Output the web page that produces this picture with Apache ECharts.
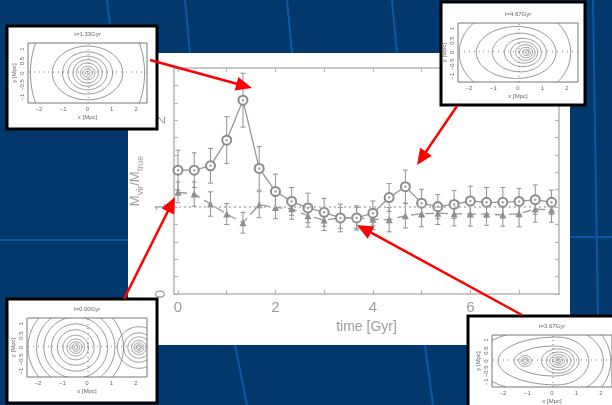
<!DOCTYPE html>
<html><head><meta charset="utf-8">
<script src="https://cdn.jsdelivr.net/npm/echarts@6/dist/echarts.min.js"></script>
<style>html,body{margin:0;padding:0;background:#03386d;}#c{width:612px;height:405px;}</style>
</head><body><div id="c"></div>
<script>
// ---- main chart data ----
const timeGyr = [0,0.333,0.667,1,1.333,1.667,2,2.333,2.667,3,3.333,3.667,4,4.333,4.667,5,5.333,5.667,6,6.333,6.667,7,7.333,7.667];
const ratioCircle = [1.425,1.425,1.475,1.77,2.23,1.445,1.18,1.065,0.99,0.94,0.875,0.875,0.93,1.11,1.235,1.045,1.005,1.03,1.07,1.055,1.055,1.065,1.085,1.055];
const errCircle = [0.23,0.2,0.2,0.27,0.31,0.25,0.2,0.16,0.17,0.16,0.16,0.14,0.14,0.16,0.19,0.16,0.14,0.16,0.17,0.17,0.17,0.15,0.17,0.14];
const ratioTriangle = [1.17,1.15,1.035,0.92,0.82,1.027,0.996,0.98,0.9,0.85,0.875,0.875,0.86,0.855,0.9,0.923,0.93,0.923,0.92,0.92,0.91,0.923,0.977,0.965];
const errTriangle = [0.12,0.14,0.14,0.12,0.12,0.15,0.13,0.12,0.13,0.12,0.12,0.12,0.12,0.14,0.14,0.15,0.13,0.14,0.14,0.13,0.13,0.15,0.15,0.14];
const referenceLevel = 1;
const xTickValues = [0,1,2,3,4,5,6,7];
const xLabelValues = [0,2,4,6];
const yTickValues = [0,0.2,0.4,0.6,0.8,1,1.2,1.4,1.6,1.8,2,2.2,2.4,2.6];
const yLabelValues = [0,1,2];

// ---- inset contour data: [cx, cy, rxLeft, rxRight, ry] in Mpc ----
const contours133 = [[0,0,2.35,2.35,3.0],[0,0,1.45,1.45,1.12],[0,0,1.03,1.03,0.88],[0,0,0.8,0.8,0.7],[0,0,0.6,0.6,0.55],[0,0,0.45,0.45,0.42],[0,0,0.3,0.3,0.28],[0,0,0.2,0.2,0.17],[0,0,0.1,0.1,0.08]];
const contours467 = [[0,0,2.4,2.15,1.9],[-0.05,0,1.65,1.6,1.1],[0.1,0,1.15,1.05,0.82],[0.2,0,0.75,0.75,0.6],[0.25,0,0.55,0.55,0.45],[0.3,0,0.4,0.4,0.33],[0.33,0,0.27,0.27,0.22],[0.35,0,0.17,0.17,0.13],[0.37,0,0.08,0.08,0.06]];
const contours000 = [[-0.46,0,0.08,0.08,0.08],[-0.46,0,0.16,0.16,0.16],[-0.46,0,0.25,0.25,0.25],[-0.46,0,0.36,0.36,0.36],[-0.46,0,0.52,0.52,0.52],[-0.46,0,0.75,0.75,0.75],[-0.46,0,1.0,1.0,1.0],[-0.46,0,1.3,1.3,1.3],[-0.46,0,1.6,1.6,1.6],[-0.46,0,1.95,1.95,1.95],
  [2.12,0,0.06,0.06,0.06],[2.12,0,0.12,0.12,0.12],[2.12,0,0.2,0.2,0.2],[2.12,0,0.3,0.3,0.3],[2.12,0,0.45,0.45,0.45],[2.12,0,0.62,0.62,0.62],[2.12,0,0.88,0.88,0.88]];
const contours367 = [[0.27,0,0.07,0.07,0.06],[0.27,0,0.14,0.14,0.12],[0.27,0,0.24,0.24,0.2],[0.27,0,0.36,0.36,0.31],[0.27,0,0.5,0.5,0.43],[0.25,0,0.68,0.66,0.58],
  [-1.1,0,0.08,0.08,0.08],[-1.1,0,0.16,0.16,0.16],[-1.1,0,0.26,0.26,0.26],
  [0.1,0,1.65,1.0,0.72],[0.2,0,2.4,1.3,1.15],[0.3,0,3.5,1.8,1.6],[0.3,0,4.0,2.1,2.2]];
const insetTitles = ['t=1.33Gyr','t=4.67Gyr','t=0.00Gyr','t=3.67Gyr'];
const insetXLabels = [-2,-1,0,1,2];
const insetYLabels = [-1,-0.5,0,0.5,1];

// ---- layout (pixels) ----
const insetLayout = [
  {box:[7,26,150,103], frame:[28,43,119,60]},
  {box:[441,2,144,103], frame:[458,23,120,59]},
  {box:[7,299,150,104], frame:[27,318,120,59]},
  {box:[468,316,150,104], frame:[492,335,120,59]}
];
const insetContours = [contours133, contours467, contours000, contours367];

const GRAY = '#969696', AX = '#b5b5b5', TXT = '#9c9c9c';
const FONT = 'Liberation Sans, Arial, sans-serif';

const chart = echarts.init(document.getElementById('c'), null, {renderer:'canvas'});

function errRender(params, api){
  const x = api.value(0);
  const lo = api.coord([x, api.value(1)]);
  const hi = api.coord([x, api.value(2)]);
  const w = 2.5;
  const st = {stroke: '#919191', lineWidth: 1};
  return {type:'group', children:[
    {type:'line', shape:{x1:lo[0],y1:lo[1],x2:hi[0],y2:hi[1]}, style:st},
    {type:'line', shape:{x1:lo[0]-w,y1:lo[1],x2:lo[0]+w,y2:lo[1]}, style:st},
    {type:'line', shape:{x1:hi[0]-w,y1:hi[1],x2:hi[0]+w,y2:hi[1]}, style:st}
  ]};
}
function ringRender(params, api){
  const cx=api.value(0), cy=api.value(1), rl=api.value(2), rr=api.value(3), ry=api.value(4);
  const pts=[];
  for(let k=0;k<=120;k++){
    const t=k/120*2*Math.PI, c=Math.cos(t), s=Math.sin(t);
    pts.push(api.coord([cx+(c<0?rl:rr)*c, cy+ry*s]));
  }
  return {type:'polyline', shape:{points:pts}, style:{stroke:'#7a7a7a', lineWidth:0.8, fill:null}};
}

const grids = [{left:174, top:68, width:385, height:226, show:false}];
const xAxes = [
  {gridIndex:0, type:'value', min:-0.082, max:7.82, position:'bottom',
   axisLine:{show:true, onZero:false, lineStyle:{color:AX, width:1.5}},
   axisTick:{show:true, inside:true, length:4, customValues:xTickValues, lineStyle:{color:AX, width:1.2}},
   axisLabel:{customValues:xLabelValues, margin:6, fontSize:15, color:TXT, fontFamily:FONT},
   splitLine:{show:false},
   name:'time [Gyr]', nameLocation:'middle', nameGap:26, nameTextStyle:{fontSize:14, color:TXT, fontFamily:FONT}},
  {gridIndex:0, type:'value', min:-0.082, max:7.82, position:'top',
   axisLine:{show:true, onZero:false, lineStyle:{color:AX, width:1.5}},
   axisTick:{show:true, inside:true, length:4, customValues:xTickValues, lineStyle:{color:AX, width:1.2}},
   axisLabel:{show:false}, splitLine:{show:false}}
];
const yAxes = [
  {gridIndex:0, type:'value', min:0, max:2.6, position:'left',
   axisLine:{show:true, onZero:false, lineStyle:{color:AX, width:1.5}},
   axisTick:{show:true, inside:true, length:4, customValues:yTickValues, lineStyle:{color:AX, width:1.2}},
   axisLabel:{customValues:yLabelValues, rotate:90, margin:6, fontSize:15, color:TXT, fontFamily:FONT},
   splitLine:{show:false},
   name:'M{s|vir}/M{s|true}', nameLocation:'middle', nameRotate:90, nameGap:19,
   nameTextStyle:{fontSize:13, color:TXT, fontFamily:FONT, lineHeight:20,
     rich:{s:{fontSize:9, color:TXT, fontFamily:FONT, verticalAlign:'bottom', lineHeight:20}}}},
  {gridIndex:0, type:'value', min:0, max:2.6, position:'right',
   axisLine:{show:true, onZero:false, lineStyle:{color:AX, width:1.5}},
   axisTick:{show:true, inside:true, length:4, customValues:yTickValues, lineStyle:{color:AX, width:1.2}},
   axisLabel:{show:false}, splitLine:{show:false}}
];

const series = [
  {type:'custom', xAxisIndex:0, yAxisIndex:0, renderItem:errRender, z:2,
   data: timeGyr.map((t,i)=>[t, ratioCircle[i]-errCircle[i], ratioCircle[i]+errCircle[i]])},
  {type:'custom', xAxisIndex:0, yAxisIndex:0, renderItem:errRender, z:2,
   data: timeGyr.map((t,i)=>[t, ratioTriangle[i]-errTriangle[i], ratioTriangle[i]+errTriangle[i]])},
  {type:'line', xAxisIndex:0, yAxisIndex:0, z:3, data: timeGyr.map((t,i)=>[t, ratioTriangle[i]]),
   symbol:'triangle', symbolSize:7, itemStyle:{color:'#8f8f8f'},
   lineStyle:{color:GRAY, width:1.3, type:[9,5]},
   markLine:{silent:true, symbol:['none','none'], label:{show:false},
     lineStyle:{color:'#b0b0b0', type:[2,3], width:1.5}, data:[{yAxis:referenceLevel}]}},
  {type:'line', xAxisIndex:0, yAxisIndex:0, z:4, data: timeGyr.map((t,i)=>[t, ratioCircle[i]]),
   symbol:'emptyCircle', symbolSize:9, itemStyle:{color:'#8c8c8c', borderWidth:1},
   lineStyle:{color:GRAY, width:1.3}},
  {type:'scatter', xAxisIndex:0, yAxisIndex:0, z:5, data: timeGyr.map((t,i)=>[t, ratioCircle[i]]),
   symbol:'circle', symbolSize:2.5, itemStyle:{color:'#8c8c8c'}}
];

const graphics = [];
// slide decoration
const slideLines = [[107,0,110,26],[185,0,190,53],[287,0,292,53],[392,0,397,53],[593,0,598,320],[570,237,612,237],[0,240,128,240],[235,345,247,405],[425,345,433,405]];
slideLines.forEach(l=>graphics.push({type:'line', z:-20, shape:{x1:l[0],y1:l[1],x2:l[2],y2:l[3]}, style:{stroke:'#0c58a6', lineWidth:2}}));
graphics.push({type:'rect', z:-10, shape:{x:128,y:53,width:442,height:292}, style:{fill:'#ffffff'}});

insetLayout.forEach((L,i)=>{
  const gi = i+1;
  const [bx,by,bw,bh] = L.box; const [fx,fy,fw,fh] = L.frame;
  graphics.push({type:'rect', z:5, shape:{x:bx,y:by,width:bw,height:bh}, style:{fill:'#ffffff', stroke:'#000000', lineWidth:3}});
  graphics.push({type:'text', z:12, x:fx+fw/2, y:fy-9, style:{text:insetTitles[i], fontSize:6, fill:'#666', fontFamily:FONT, align:'center', verticalAlign:'middle'}});
  grids.push({left:fx, top:fy, width:fw, height:fh, show:true, borderColor:'#777', borderWidth:1, backgroundColor:'#fff', z:10});
  xAxes.push({gridIndex:gi, type:'value', min:-2.45, max:2.45, z:10,
    axisLine:{show:false}, splitLine:{show:false},
    axisTick:{show:true, inside:true, length:2, customValues:[-2.4,-2.2,-2,-1.8,-1.6,-1.4,-1.2,-1,-0.8,-0.6,-0.4,-0.2,0,0.2,0.4,0.6,0.8,1,1.2,1.4,1.6,1.8,2,2.2,2.4], lineStyle:{color:'#888', width:0.6}},
    axisLabel:{customValues:insetXLabels, margin:3, fontSize:6, color:'#666', fontFamily:FONT, formatter:v=>String(v).replace('-','\u2212')},
    name:'x [Mpc]', nameLocation:'middle', nameGap:11, nameTextStyle:{fontSize:6, color:'#666', fontFamily:FONT}});
  yAxes.push({gridIndex:gi, type:'value', min:-1.25, max:1.25, z:10,
    axisLine:{show:false}, splitLine:{show:false},
    axisTick:{show:true, inside:true, length:2, customValues:[-1.2,-1.0,-0.8,-0.6,-0.4,-0.2,0,0.2,0.4,0.6,0.8,1.0,1.2], lineStyle:{color:'#888', width:0.6}},
    axisLabel:{customValues:insetYLabels, rotate:90, margin:3, fontSize:6, color:'#666', fontFamily:FONT, formatter:v=>String(v).replace('-','\u2212')},
    name:'y [Mpc]', nameLocation:'middle', nameRotate:90, nameGap:11, nameTextStyle:{fontSize:6, color:'#666', fontFamily:FONT}});
  series.push({type:'custom', xAxisIndex:gi+1, yAxisIndex:gi+1, z:11, clip:true, renderItem:ringRender, data:insetContours[i]});
});

// red arrows (start, tip)
const arrows = [[150,60,252,88],[457,106,417,165],[124,299,175,197],[522,315,357,225]];
arrows.forEach(a=>{
  const [x1,y1,x2,y2]=a; const dx=x2-x1, dy=y2-y1, len=Math.hypot(dx,dy), ux=dx/len, uy=dy/len;
  const hl=16, hw=7;
  const bxp=x2-ux*hl, byp=y2-uy*hl;
  graphics.push({type:'line', z:30, shape:{x1:x1,y1:y1,x2:bxp+ux*2,y2:byp+uy*2}, style:{stroke:'#ff0000', lineWidth:2.5}});
  graphics.push({type:'polygon', z:30, shape:{points:[[x2,y2],[bxp-uy*hw,byp+ux*hw],[bxp+uy*hw,byp-ux*hw]]}, style:{fill:'#ff0000'}});
});

chart.setOption({
  animation:false,
  backgroundColor:'#03386d',
  grid:grids, xAxis:xAxes, yAxis:yAxes, series:series, graphic:graphics
});
</script></body></html>
